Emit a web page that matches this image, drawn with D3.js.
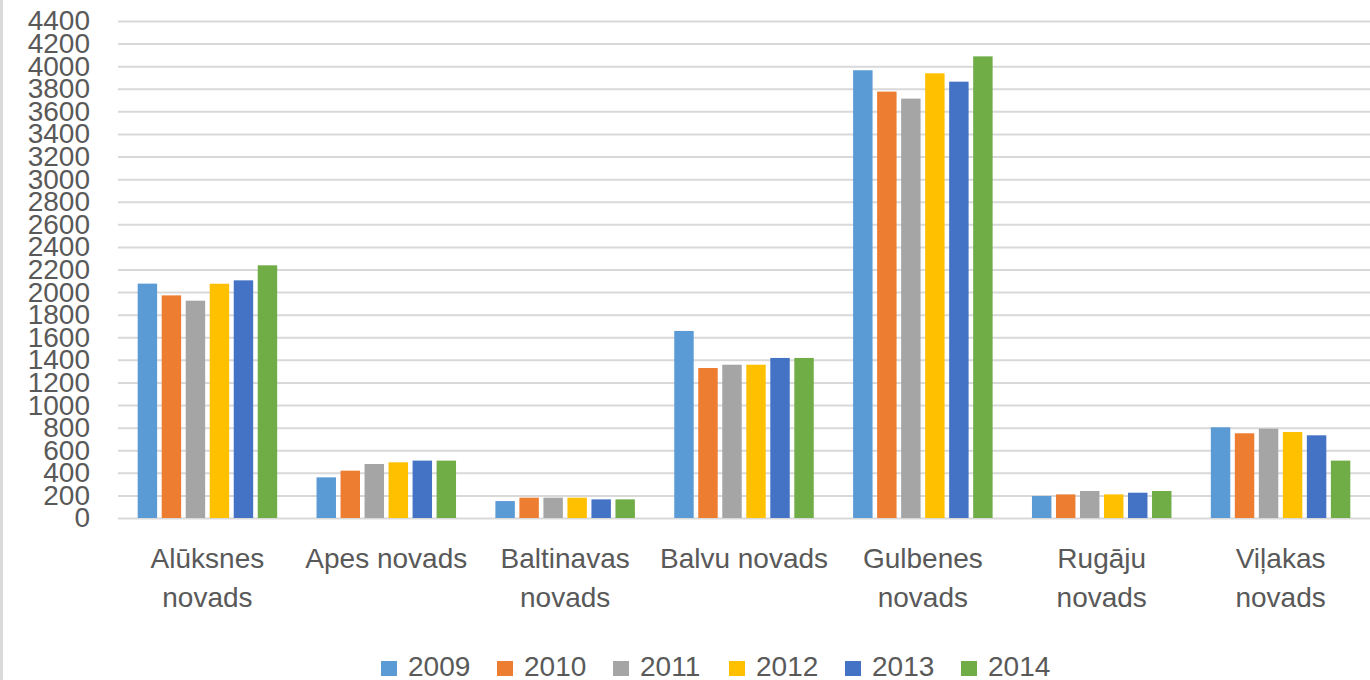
<!DOCTYPE html>
<html>
<head>
<meta charset="utf-8">
<script src="https://cdn.jsdelivr.net/npm/d3@7"></script>
<style>
	body { margin: 0; background: #fff; }
	text { font-family: "Liberation Sans", Arial, sans-serif; fill: #595959; }
</style>
</head>
<body>
<script>
// data
var categories = ['Alūksnes novads', 'Apes novads', 'Baltinavas novads', 'Balvu novads', 'Gulbenes novads', 'Rugāju novads', 'Viļakas novads']
// how the category labels wrap under the axis
var categoryLines = [['Alūksnes', 'novads'], ['Apes novads'], ['Baltinavas', 'novads'], ['Balvu novads'], ['Gulbenes', 'novads'], ['Rugāju', 'novads'], ['Viļakas', 'novads']]
var years = ['2009', '2010', '2011', '2012', '2013', '2014']
var v2009 = [2075, 360, 150, 1656, 3964, 195, 803]
var v2010 = [1971, 419, 180, 1328, 3775, 209, 750]
var v2011 = [1924, 478, 180, 1357, 3713, 239, 791]
var v2012 = [2074, 493, 180, 1357, 3937, 209, 761]
var v2013 = [2104, 508, 165, 1417, 3863, 224, 732]
var v2014 = [2237, 508, 165, 1417, 4087, 239, 508]
var yTicks = d3.range(0, 4401, 200)
var colors = ['#5B9BD5', '#ED7D31', '#A5A5A5', '#FFC000', '#4472C4', '#70AD47']

var series = [v2009, v2010, v2011, v2012, v2013, v2014]
var W = 1370, H = 680
var plot = { left: 118, right: 1370, top: 21, bottom: 518 }

var svg = d3.select('body').append('svg')
	.attr('width', W)
	.attr('height', H)

// left border of the chart frame
svg.append('rect')
	.attr('x', 0).attr('y', 0)
	.attr('width', 3).attr('height', H)
	.attr('fill', '#d9d9d9')

// scales
var x0 = d3.scaleBand()
	.domain(categories)
	.range([plot.left, plot.right])
	.paddingInner(0.22)
	.paddingOuter(0.11)
var x1 = d3.scaleBand()
	.domain(years)
	.range([0, x0.bandwidth()])
	.paddingInner(0.19)
var y = d3.scaleLinear()
	.domain([0, 4400])
	.range([plot.bottom, plot.top])

// gridlines
var grid = svg.append('g')
	.attr('transform', 'translate(' + plot.left + ',0)')
	.call(d3.axisLeft(y).tickValues(yTicks).tickSize(-(plot.right - plot.left)).tickFormat(''))
grid.select('.domain').remove()
grid.selectAll('line').attr('stroke', '#d9d9d9').attr('stroke-width', 2)

// y labels
var yAxis = svg.append('g')
	.attr('transform', 'translate(90,0)')
	.call(d3.axisLeft(y).tickValues(yTicks).tickSize(0).tickPadding(0).tickFormat(d3.format('d')))
yAxis.select('.domain').remove()
yAxis.selectAll('text')
	.style('font-size', '28px')
	.attr('fill', '#595959')

// bars
var groups = svg.selectAll('.group')
	.data(categories)
	.enter()
	.append('g')
	.attr('class', 'group')
	.attr('transform', function (d) { return 'translate(' + x0(d) + ',0)' })
groups.selectAll('rect')
	.data(function (d, i) {
		return years.map(function (yr, j) { return { year: yr, value: series[j][i], k: j } })
	})
	.enter()
	.append('rect')
	.attr('x', function (d) { return x1(d.year) })
	.attr('width', x1.bandwidth())
	.attr('y', function (d) { return y(d.value) })
	.attr('height', function (d) { return y(0) - y(d.value) })
	.attr('fill', function (d) { return colors[d.k] })

// category labels
var xAxis = svg.append('g')
	.attr('transform', 'translate(0,' + plot.bottom + ')')
	.call(d3.axisBottom(x0).tickSize(0).tickFormat(''))
xAxis.select('.domain').remove()
xAxis.selectAll('.tick').each(function (d, i) {
	var t = d3.select(this).append('text')
		.attr('text-anchor', 'middle')
		.style('font-size', '28px')
	categoryLines[i].forEach(function (line, k) {
		t.append('tspan')
			.attr('x', 0)
			.attr('y', 50 + k * 39)
			.text(line)
	})
})

// legend
var legend = svg.selectAll('.legend')
	.data(years)
	.enter()
	.append('g')
	.attr('class', 'legend')
	.attr('transform', function (d, i) { return 'translate(' + (381 + i * 116) + ',661)' })
legend.append('rect')
	.attr('width', 16).attr('height', 15)
	.attr('fill', function (d, i) { return colors[i] })
legend.append('text')
	.attr('x', 27)
	.attr('y', 15)
	.style('font-size', '28px')
	.text(function (d) { return d })
</script>
</body>
</html>
